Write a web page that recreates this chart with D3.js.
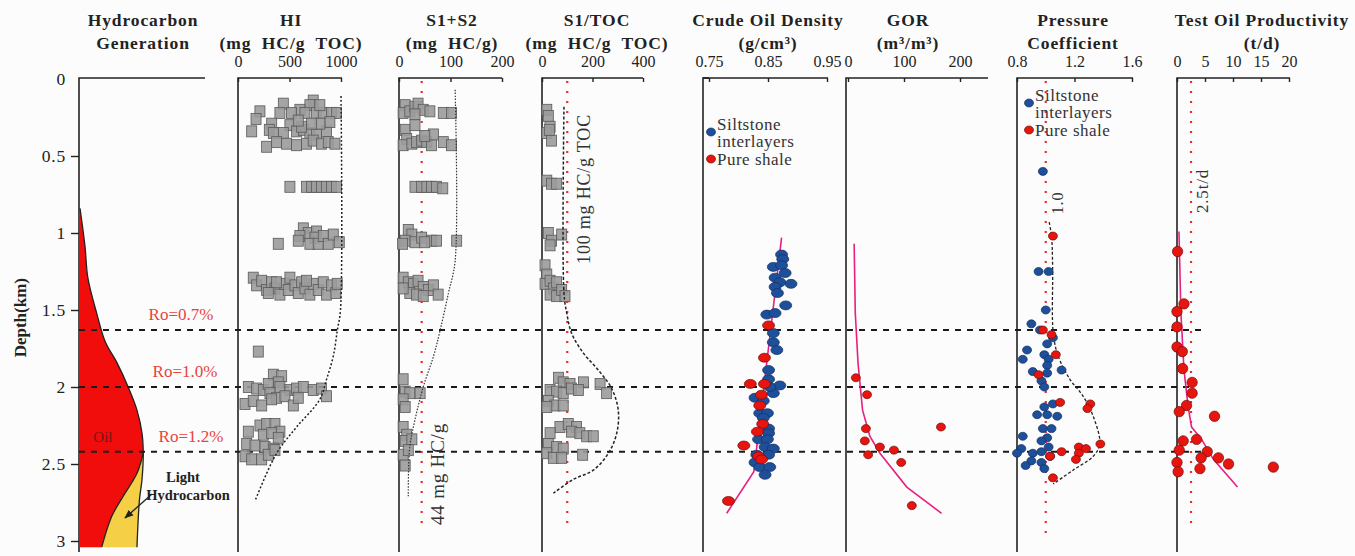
<!DOCTYPE html>
<html>
<head>
<meta charset="utf-8">
<script src="https://cdn.jsdelivr.net/npm/d3@7"></script>
<style>
body { margin: 0; background: #fcfcfc; }
svg { font-family: "Liberation Serif", "Times New Roman", serif; }
</style>
</head>
<body>
<script>
// depth axis
const depthTicks = [0, 0.5, 1, 1.5, 2, 2.5, 3];
const roDepths = [1.63, 2.0, 2.42];
const roLabels = ["Ro=0.7%", "Ro=1.0%", "Ro=1.2%"];

// hydrocarbon generation envelope [depth, relative amount]
const hcOuter = [[0.84, 0.8], [1.09, 4.8], [1.29, 7], [1.52, 14], [1.71, 21], [1.84, 30], [2.0, 39], [2.15, 46], [2.30, 50], [2.43, 51], [2.60, 50], [2.73, 48], [3.04, 46]];
const hcInner = [[2.43, 51], [2.56, 46], [2.71, 35], [2.84, 26], [3.04, 18]];

// HI [depth, mg HC/g TOC]
const hiPts = [
  [0.16,440],[0.21,213],[0.26,175],[0.14,730],[0.17,698],[0.20,601],[0.22,520],[0.22,407],[0.22,650],[0.22,763],[0.22,828],[0.22,909],[0.22,957],[0.17,795],[0.29,327],[0.30,504],[0.34,133],[0.33,304],[0.35,343],[0.35,440],[0.34,569],[0.33,634],[0.35,698],[0.36,763],[0.34,860],[0.28,892],[0.29,795],[0.44,278],[0.41,375],[0.42,472],[0.43,569],[0.42,666],[0.40,730],[0.42,811],[0.41,876],[0.42,941],[0.31,618],[0.29,715],[0.27,585],
  [0.70,504],[0.70,666],[0.70,715],[0.70,763],[0.70,811],[0.70,860],[0.70,909],[0.70,957],
  [1.07,391],[0.97,634],[1.00,682],[1.02,601],[1.05,585],[0.99,763],[1.03,747],[1.07,698],[1.07,779],[1.02,828],[1.07,876],[1.01,925],[1.06,983],
  [1.29,148],[1.34,181],[1.31,230],[1.37,278],[1.32,327],[1.36,359],[1.40,407],[1.33,456],[1.37,488],[1.29,504],[1.34,553],[1.39,585],[1.32,618],[1.36,650],[1.40,698],[1.33,730],[1.37,779],[1.32,828],[1.40,860],[1.34,909],[1.39,950],[1.33,963],[1.32,375],[1.39,294],[1.31,666],
  [1.77,197],
  [1.92,343],[1.93,424],[1.97,391],[2.00,407],[2.00,100],[2.01,181],[2.02,246],[1.98,294],[2.04,310],[2.02,504],[2.01,569],[2.00,634],[2.02,730],[2.01,811],[2.06,860],[2.11,68],[2.09,148],[2.12,230],[2.07,375],[2.06,456],[2.12,537],[2.07,585],[2.08,327],
  [2.29,100],[2.25,213],[2.24,278],[2.24,359],[2.29,407],[2.31,246],[2.30,327],[2.33,391],[2.37,84],[2.38,165],[2.39,262],[2.40,343],[2.45,68],[2.47,133],[2.47,230],[2.44,294],[2.41,359]
];
const hiTrend = [[0.11,1000],[1.50,995],[1.63,965],[1.80,925],[1.95,860],[2.08,795],[2.26,569],[2.43,375],[2.74,165]];

// S1+S2 [depth, mg HC/g]
const s12Pts = [
  [0.17,12],[0.22,8],[0.21,21],[0.18,31],[0.16,37],[0.20,47],[0.21,60],[0.22,86],[0.22,102],[0.23,31],[0.33,12],[0.39,15],[0.43,8],[0.42,25],[0.41,34],[0.40,44],[0.41,54],[0.43,63],[0.36,67],[0.30,31],[0.41,86],[0.43,102],[0.37,50],
  [0.70,31],[0.70,44],[0.70,54],[0.70,63],[0.70,73],[0.71,85],
  [0.98,18],[1.01,25],[1.05,12],[1.06,31],[1.03,44],[1.05,63],[1.05,73],[1.05,112],[1.07,7],[1.06,50],
  [1.29,8],[1.32,18],[1.33,28],[1.31,37],[1.35,47],[1.37,57],[1.34,67],[1.40,76],[1.39,21],[1.40,34],[1.41,47],[1.36,8],
  [1.95,8],[2.03,12],[2.04,21],[2.08,8],[2.13,12],[2.04,41],
  [2.26,8],[2.31,15],[2.35,12],[2.34,25],[2.44,8],[2.51,12],[2.41,18]
];
const s12Trend = [[0.07,109],[1.18,109],[1.39,96],[1.63,80],[1.80,67],[2.00,47],[2.17,34],[2.39,21],[2.71,18]];
const s12Cut = 44;

// S1/TOC [depth, mg HC/g TOC]
const s1tocPts = [
  [0.20,19],[0.24,25],[0.31,32],[0.35,19],[0.40,38],[0.33,29],
  [0.66,19],[0.68,38],[0.68,58],
  [1.00,25],[1.05,38],[1.08,32],[1.01,78],
  [1.21,12],[1.27,19],[1.33,12],[1.31,32],[1.36,45],[1.32,58],[1.40,32],[1.41,58],[1.37,78],[1.41,91],
  [1.94,65],[1.97,84],[1.98,111],[1.97,164],[1.98,230],[2.04,256],[2.02,32],[2.03,58],[2.04,84],[2.01,117],[2.02,144],[2.09,25],[2.12,51],[2.12,84],[2.13,19],
  [2.26,71],[2.24,104],[2.26,137],[2.29,117],[2.30,150],[2.32,177],[2.32,203],[2.30,32],[2.37,25],[2.39,58],[2.40,84],[2.43,19],[2.46,45],[2.46,78],[2.44,161]
];
const s1tocTrend = [[0.18,87],[1.39,87],[1.52,98],[1.65,117],[1.78,164],[1.89,223],[2.01,276],[2.15,302],[2.30,296],[2.43,263],[2.54,203],[2.60,124],[2.69,45]];
const s1tocCut = 100;

// crude oil density [depth, g/cm3]
const densSilt = [[1.14,0.873],[1.17,0.875],[1.22,0.859],[1.21,0.873],[1.26,0.879],[1.29,0.862],[1.32,0.870],[1.33,0.889],[1.35,0.862],[1.39,0.866],[1.47,0.880],[1.53,0.848],[1.52,0.862],[1.65,0.859],[1.71,0.859],[1.76,0.865],[1.89,0.851],[1.95,0.851],[1.99,0.870],[2.04,0.859],[2.00,0.853],[2.07,0.828],[2.09,0.842],[2.17,0.836],[2.17,0.849],[2.20,0.842],[2.27,0.851],[2.30,0.851],[2.34,0.834],[2.34,0.849],[2.39,0.845],[2.40,0.859],[2.44,0.831],[2.44,0.851],[2.49,0.828],[2.52,0.836],[2.52,0.853],[2.57,0.845]];
const densShale = [[1.60,0.851],[1.81,0.844],[1.98,0.820],[1.98,0.844],[2.05,0.839],[2.12,0.836],[2.24,0.841],[2.29,0.832],[2.38,0.809],[2.45,0.834],[2.47,0.839],[2.74,0.783]];
const densTrend = [[1.03,0.873],[2.55,0.826],[2.82,0.780]];

// GOR [depth, m3/m3]
const gorPts = [[1.94,14],[2.05,34],[2.27,32],[2.26,166],[2.35,30],[2.39,57],[2.41,82],[2.44,36],[2.49,95],[2.77,114]];
const gorTrend = [[1.07,11],[1.52,13],[1.85,18],[2.15,26],[2.32,39],[2.43,57],[2.65,105],[2.82,167]];

// pressure coefficient [depth, coefficient]
const presSilt = [[0.60,0.98],[1.25,0.95],[1.25,1.02],[1.50,1.00],[1.59,0.90],[1.63,0.96],[1.68,1.05],[1.72,1.01],[1.76,0.87],[1.79,0.99],[1.82,0.84],[1.82,1.02],[1.86,1.01],[1.90,0.91],[1.91,1.01],[1.89,1.11],[1.96,0.97],[2.00,0.99],[2.11,1.05],[2.13,0.99],[2.18,0.94],[2.18,1.01],[2.19,1.08],[2.27,0.98],[2.27,1.04],[2.32,0.84],[2.33,1.01],[2.35,0.97],[2.39,1.02],[2.40,0.83],[2.43,0.80],[2.43,0.91],[2.42,0.97],[2.45,1.03],[2.48,0.90],[2.49,0.97],[2.51,0.86],[2.53,0.99]];
const presShale = [[1.02,1.05],[1.63,0.98],[1.66,1.04],[1.79,1.07],[1.92,0.95],[2.10,1.10],[2.11,1.31],[2.14,1.29],[2.37,1.38],[2.39,1.23],[2.40,1.28],[2.42,1.11],[2.43,1.23],[2.47,1.21],[2.45,1.03],[2.59,1.05]];
const presTrend = [[0.93,1.024],[1.02,1.04],[1.22,1.048],[1.65,1.052],[1.80,1.087],[1.95,1.168],[2.06,1.26],[2.19,1.33],[2.37,1.376],[2.45,1.33],[2.54,1.19],[2.63,1.052]];
const presCut = 1.0;

// test oil productivity [depth, t/d]
const oilPts = [[1.12,0.1],[1.46,1.25],[1.51,0],[1.61,0],[1.74,0],[1.77,0.95],[1.88,1.0],[1.97,2.7],[2.04,2.7],[2.12,1.7],[2.16,0.4],[2.19,6.7],[2.35,1.1],[2.34,3.5],[2.41,0.4],[2.42,5.4],[2.49,0],[2.46,4.3],[2.46,7.4],[2.50,9.2],[2.55,0.2],[2.53,4.1],[2.52,17.2]];
const oilTrend = [[0.99,0.35],[1.52,0.7],[1.89,1.25],[2.13,2.0],[2.26,2.6],[2.34,4.4],[2.47,6.5],[2.65,10.8]];
const oilCut = 2.5;

const svg = d3.select("body").append("svg").attr("width", 1355).attr("height", 556);
const y = d3.scaleLinear().domain([0, 3]).range([79, 541]);

const ink = "#222";
const redDot = "#e8140e";
const blueDot = "#1d4f9a";
const pink = "#e8207f";

// scales for each column
const hx = d3.scaleLinear().domain([0, 100]).range([79, 205]);
const hiX = d3.scaleLinear().domain([0, 1000]).range([238, 341]);
const s12X = d3.scaleLinear().domain([0, 200]).range([399, 502]);
const tocX = d3.scaleLinear().domain([0, 400]).range([542, 643]);
const densX = d3.scaleLinear().domain([0.75, 0.95]).range([709, 827]);
const gorX = d3.scaleLinear().domain([0, 200]).range([848, 960]);
const presX = d3.scaleLinear().domain([0.8, 1.6]).range([1017, 1132]);
const oilX = d3.scaleLinear().domain([0, 20]).range([1177, 1289]);

svg.append("defs").append("marker")
    .attr("id", "arr").attr("viewBox", "0 0 10 10").attr("refX", 9).attr("refY", 5)
    .attr("markerWidth", 7).attr("markerHeight", 7).attr("orient", "auto")
    .append("path").attr("d", "M0,1L10,5L0,9Z").attr("fill", ink);

function title(cx, lines) {
    lines.forEach((t, i) => {
        svg.append("text").attr("x", cx).attr("y", 26 + i * 23)
            .attr("text-anchor", "middle").attr("font-weight", "bold")
            .attr("font-size", 17.5).attr("letter-spacing", 0.9)
            .style("white-space", "pre").attr("fill", ink).text(t);
    });
}

function frame(x0, xEnd, scale, ticks, fmt) {
    svg.append("path").attr("d", `M${x0},552V78H${xEnd}`)
        .attr("fill", "none").attr("stroke", ink).attr("stroke-width", 1.6);
    if (!scale) return;
    svg.append("g").attr("transform", "translate(0,78)")
        .call(d3.axisTop(scale).tickValues(ticks).tickFormat(fmt).tickSize(-4).tickPadding(11))
        .call(g => g.select(".domain").remove())
        .attr("font-family", null).attr("font-size", 16)
        .call(g => g.selectAll("line").attr("stroke", ink).attr("stroke-width", 1.4))
        .call(g => g.selectAll("text").attr("fill", ink));
}

function squares(data, sx) {
    svg.append("g").selectAll("rect").data(data).join("rect")
        .attr("x", d => sx(d[1]) - 5).attr("y", d => y(d[0]) - 5.5)
        .attr("width", 10).attr("height", 11)
        .attr("fill", "#9b9b9b").attr("fill-opacity", 0.9)
        .attr("stroke", "#595959").attr("stroke-width", 0.8);
}

function dots(data, sx, color, rx, ry) {
    svg.append("g").selectAll("ellipse").data(data).join("ellipse")
        .attr("cx", d => sx(d[1])).attr("cy", d => y(d[0]))
        .attr("rx", rx).attr("ry", ry)
        .attr("fill", color).attr("stroke", color === redDot ? "#6b1010" : "#15305e").attr("stroke-width", 0.7);
}

function trend(data, sx, opts) {
    const line = d3.line().x(d => sx(d[1])).y(d => y(d[0]))
        .curve(opts.smooth ? d3.curveCatmullRom : d3.curveLinear);
    svg.append("path").attr("d", line(data)).attr("fill", "none")
        .attr("stroke", opts.color).attr("stroke-width", opts.width)
        .attr("stroke-dasharray", opts.dash || null);
}

function cutLine(sx, v, d1) {
    svg.append("line").attr("x1", sx(v)).attr("x2", sx(v)).attr("y1", 81).attr("y2", y(d1))
        .attr("stroke", "#ee2a2a").attr("stroke-width", 2.2).attr("stroke-dasharray", "2,8");
}

function vtext(x, yc, t, size) {
    svg.append("text").attr("transform", `translate(${x},${yc}) rotate(-90)`)
        .attr("text-anchor", "middle").attr("dy", "0.35em").attr("font-size", size)
        .attr("letter-spacing", 0.8).attr("fill", "#333").text(t);
}

function legend(x, yTop) {
    dots([[y.invert(yTop + 8), 0]], () => x, blueDot, 4.5, 4);
    dots([[y.invert(yTop + 35), 0]], () => x, redDot, 4.5, 4);
    [["Siltstone", 0], ["interlayers", 17], ["Pure shale", 35]].forEach(([t, dy]) => {
        svg.append("text").attr("x", x + 6).attr("y", yTop + dy).attr("dy", "0.35em")
            .attr("font-size", 17).attr("letter-spacing", 0.5).attr("fill", "#333").text(t);
    });
}

// titles
title(143, ["Hydrocarbon", "Generation"]);
title(291, ["HI", "(mg  HC/g  TOC)"]);
title(452, ["S1+S2", "(mg  HC/g)"]);
title(597, ["S1/TOC", "(mg  HC/g  TOC)"]);
title(768, ["Crude Oil Density", "(g/cm³)"]);
title(908, ["GOR", "(m³/m³)"]);
title(1073, ["Pressure", "Coefficient"]);
title(1262, ["Test Oil Productivity", "(t/d)"]);

// depth axis
frame(79, 205, null);
svg.append("g").attr("transform", "translate(79,0)")
    .call(d3.axisLeft(y).tickValues(depthTicks).tickFormat(d => d).tickSize(8).tickPadding(5))
    .call(g => g.select(".domain").remove())
    .attr("font-family", null).attr("font-size", 17.5)
    .call(g => g.selectAll("line").attr("stroke", ink).attr("stroke-width", 1.4).filter(d => d === 0).remove())
    .call(g => g.selectAll("text").attr("fill", ink).attr("letter-spacing", 0.8));
svg.append("text").attr("transform", `translate(20,${y(1.55)}) rotate(-90)`)
    .attr("text-anchor", "middle").attr("dy", "0.35em").attr("font-weight", "bold")
    .attr("font-size", 17).attr("fill", ink).text("Depth(km)");

// hydrocarbon generation envelope
const hLine = d3.line().x(d => hx(d[1])).y(d => y(d[0])).curve(d3.curveCatmullRom);
const outerTop = hcOuter.filter(d => d[0] <= 2.43);
const outerBottom = hcOuter.filter(d => d[0] >= 2.43);
const bottomD = hcOuter[hcOuter.length - 1][0];
svg.append("path")
    .attr("d", hLine(outerTop) + hLine(hcInner).replace(/^M/, "L") + `L${hx(0)},${y(bottomD)}L${hx(0)},${y(hcOuter[0][0])}Z`)
    .attr("fill", "#f20d0d");
svg.append("path")
    .attr("d", hLine(outerBottom) + hLine(hcInner.slice().reverse()).replace(/^M/, "L") + "Z")
    .attr("fill", "#f5cf45");
svg.append("path").attr("d", hLine(hcOuter)).attr("fill", "none").attr("stroke", ink).attr("stroke-width", 1.3);
svg.append("path").attr("d", hLine(hcInner)).attr("fill", "none").attr("stroke", ink).attr("stroke-width", 1.3);
svg.append("text").attr("x", hx(19)).attr("y", y(2.32)).attr("dy", "0.35em").attr("text-anchor", "middle")
    .attr("font-size", 15).attr("fill", "#7a1414").text("Oil");
svg.append("text").attr("x", 183).attr("y", 477).attr("dy", "0.35em").attr("text-anchor", "middle")
    .attr("font-weight", "bold").attr("font-size", 14.5).attr("fill", ink).text("Light");
svg.append("text").attr("x", 188).attr("y", 495).attr("dy", "0.35em").attr("text-anchor", "middle")
    .attr("font-weight", "bold").attr("font-size", 14.5).attr("fill", ink).text("Hydrocarbon");
svg.append("line").attr("x1", 152).attr("y1", 494).attr("x2", 125).attr("y2", 518)
    .attr("stroke", ink).attr("stroke-width", 1.3).attr("marker-end", "url(#arr)");

// panel frames and top axes
frame(238, 342, hiX, [0, 500, 1000], d3.format("d"));
frame(399, 502, s12X, [0, 100, 200], d3.format("d"));
frame(542, 643, tocX, [0, 200, 400], d3.format("d"));
frame(703, 828, densX, [0.75, 0.85, 0.95], d3.format(".2f"));
svg.append("line").attr("x1", 703).attr("x2", 709).attr("y1", 78).attr("y2", 78).attr("stroke", ink).attr("stroke-width", 1.6);
frame(846, 988, gorX, [0, 100, 200], d3.format("d"));
frame(1017, 1133, presX, [0.8, 1.2, 1.6], d3.format(".1f"));
frame(1177, 1290, oilX, [0, 5, 10, 15, 20], d3.format("d"));

// Ro horizontal lines
const roEnds = [1206, 1192, 1205];
roDepths.forEach((d, i) => {
    svg.append("line").attr("x1", 79).attr("x2", roEnds[i]).attr("y1", y(d)).attr("y2", y(d))
        .attr("stroke", "#1a1a1a").attr("stroke-width", 2).attr("stroke-dasharray", "6,6");
    svg.append("text").attr("x", [181, 185, 191][i]).attr("y", y(d) - 10)
        .attr("text-anchor", "middle").attr("font-size", 17).attr("fill", "#e8433c").text(roLabels[i]);
});

// HI
squares(hiPts, hiX);
trend(hiTrend, hiX, { smooth: true, color: ink, width: 1.5, dash: "2,2" });

// S1+S2
cutLine(s12X, s12Cut, 2.92);
squares(s12Pts, s12X);
trend(s12Trend, s12X, { smooth: true, color: "#333", width: 1.2, dash: "1.5,1.5" });
vtext(437, 474, "44 mg HC/g", 19);

// S1/TOC
cutLine(tocX, s1tocCut, 2.92);
squares(s1tocPts, tocX);
trend(s1tocTrend, tocX, { smooth: true, color: ink, width: 1.5, dash: "3,2" });
vtext(584, 189, "100 mg HC/g TOC", 18);

// crude oil density
trend(densTrend, densX, { smooth: false, color: pink, width: 1.6 });
dots(densSilt, densX, blueDot, 6, 4.5);
dots(densShale, densX, redDot, 6, 4.5);
legend(711, 124);

// GOR
trend(gorTrend, gorX, { smooth: false, color: pink, width: 1.6 });
dots(gorPts, gorX, redDot, 4.5, 4);

// pressure coefficient
cutLine(presX, presCut, 2.97);
trend(presTrend, presX, { smooth: true, color: ink, width: 1.3, dash: "3,2" });
dots(presSilt, presX, blueDot, 4.5, 4);
dots(presShale, presX, redDot, 4.5, 4);
legend(1029, 95);
vtext(1057, 203, "1.0", 16);

// test oil productivity
cutLine(oilX, oilCut, 2.91);
trend(oilTrend, oilX, { smooth: false, color: pink, width: 1.6 });
dots(oilPts, oilX, redDot, 5.2, 5.2);
vtext(1202, 191, "2.5t/d", 17);
</script>
</body>
</html>
